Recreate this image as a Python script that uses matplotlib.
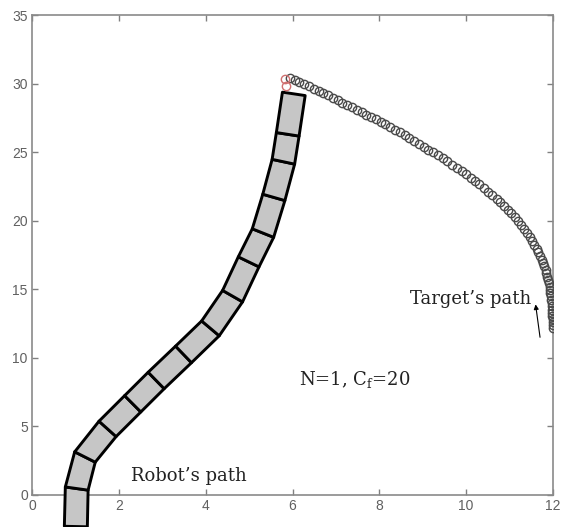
import numpy as np
import matplotlib
matplotlib.use("Agg")
import matplotlib.pyplot as plt
from matplotlib.patches import Polygon

# ---------------- data ----------------
# robot centreline joints (data units)
robot_x = [1.01, 1.03, 1.22, 1.74, 2.32, 2.86, 3.49, 4.11, 4.62, 4.99, 5.32, 5.57, 5.79, 5.89, 6.03]
robot_y = [-2.30, 0.47, 2.77, 4.82, 6.65, 8.35, 10.25, 12.15, 14.50, 17.00, 19.10, 21.70, 24.30, 26.30, 29.25]

# target path circles
target_x = [5.94, 6.05, 6.16, 6.27, 6.38, 6.49, 6.60, 6.71, 6.82, 6.93, 7.04, 7.15, 7.26, 7.37,
            7.48, 7.59, 7.70, 7.81, 7.92, 8.03, 8.14, 8.25, 8.36, 8.47, 8.58, 8.69, 8.80, 8.91,
            9.02, 9.13, 9.24, 9.35, 9.46, 9.57, 9.68, 9.79, 9.90, 10.00, 10.10, 10.20, 10.30,
            10.40, 10.50, 10.60, 10.70, 10.79, 10.88, 10.96, 11.04, 11.12, 11.19, 11.26, 11.33,
            11.40, 11.46, 11.52, 11.57, 11.62, 11.66, 11.70, 11.74, 11.77, 11.80, 11.83, 11.85,
            11.87, 11.89, 11.90, 11.92, 11.93, 11.94, 11.95, 11.96, 11.97, 11.97, 11.98, 11.98,
            11.98, 11.99, 11.99, 11.99, 11.99]
target_y = [30.44, 30.27, 30.10, 29.94, 29.79, 29.63, 29.48, 29.31, 29.14, 28.96, 28.79, 28.61,
            28.44, 28.26, 28.09, 27.91, 27.74, 27.56, 27.39, 27.21, 27.02, 26.82, 26.63, 26.44,
            26.24, 26.03, 25.82, 25.61, 25.40, 25.19, 24.98, 24.77, 24.55, 24.32, 24.09, 23.87,
            23.62, 23.39, 23.15, 22.91, 22.68, 22.40, 22.13, 21.87, 21.60, 21.35, 21.07, 20.80,
            20.53, 20.25, 19.97, 19.68, 19.40, 19.11, 18.82, 18.52, 18.23, 17.94, 17.70, 17.45,
            17.16, 16.92, 16.68, 16.42, 16.18, 15.93, 15.68, 15.45, 15.20, 14.96, 14.72, 14.49,
            14.25, 14.00, 13.76, 13.52, 13.28, 13.05, 12.82, 12.60, 12.38, 12.18]

# initial (red) markers
start_x = [5.83, 5.85]
start_y = [30.30, 29.85]

x_ticks = [0, 2, 4, 6, 8, 10, 12]
y_ticks = [0, 5, 10, 15, 20, 25, 30, 35]

robot_label = "Robot\u2019s path"
target_label = "Target\u2019s path"
param_label = r"N=1, C$_\mathrm{f}$=20"

# ---------------- figure ----------------
plt.rcParams['mathtext.fontset'] = 'custom'
plt.rcParams['mathtext.rm'] = 'DejaVu Serif'
plt.rcParams['mathtext.it'] = 'DejaVu Serif:italic'

W, H = 561, 527
fig = plt.figure(figsize=(W / 100, H / 100), dpi=100)
ax = fig.add_axes([32 / W, 32 / H, 521 / W, 480 / H])
ax.set_xlim(0, 12)
ax.set_ylim(0, 35)
ax.set_xticks(x_ticks)
ax.set_yticks(y_ticks)
ax.tick_params(direction='in', top=True, right=True, length=4, width=1,
               color='#808080', labelcolor='#606060', labelsize=10, pad=3)
for lab in ax.get_xticklabels() + ax.get_yticklabels():
    lab.set_fontfamily('Liberation Sans')
for sp in ax.spines.values():
    sp.set_color('#8a8a8a')
    sp.set_linewidth(1.2)

# robot links as a band of quads, width given in pixels
link_w = 23.0
trans = ax.transData
pts = trans.transform(np.column_stack([robot_x, robot_y]))
n = len(pts)
normals = []
for i in range(n):
    if i == 0:
        d = pts[1] - pts[0]
    elif i == n - 1:
        d = pts[-1] - pts[-2]
    else:
        d1 = pts[i] - pts[i - 1]
        d2 = pts[i + 1] - pts[i]
        d = d1 / np.linalg.norm(d1) + d2 / np.linalg.norm(d2)
    d = d / np.linalg.norm(d)
    normals.append(np.array([-d[1], d[0]]))
inv = trans.inverted()
for i in range(n - 1):
    a, b = pts[i], pts[i + 1]
    na, nb = normals[i], normals[i + 1]
    quad = np.array([a + na * link_w / 2, b + nb * link_w / 2,
                     b - nb * link_w / 2, a - na * link_w / 2])
    poly = Polygon(inv.transform(quad), closed=True, facecolor='#c6c6c6',
                   edgecolor='black', linewidth=2.1, joinstyle='round', clip_on=False, zorder=3)
    ax.add_patch(poly)

# target path
ax.plot(target_x, target_y, linestyle='none', marker='o', markersize=6.0,
        markerfacecolor='none', markeredgecolor='#4a4a4a', markeredgewidth=1.0, zorder=4)
ax.plot(start_x, start_y, linestyle='none', marker='o', markersize=6.0,
        markerfacecolor='none', markeredgecolor='#d07070', markeredgewidth=1.0, zorder=5)

# labels
serif = ['DejaVu Serif']
ax.text(2.28, 1.35, robot_label, fontfamily=serif, fontsize=13, va='center', ha='left', color='#222222')
ax.text(8.71, 14.3, target_label, fontfamily=serif, fontsize=13, va='center', ha='left', color='#222222')
ax.text(6.15, 8.4, param_label, fontfamily=serif, fontsize=13, va='center', ha='left', color='#222222')
ax.annotate('', xy=(11.59, 14.1), xytext=(11.71, 11.3),
            arrowprops=dict(arrowstyle='-|>', color='black', lw=0.8, mutation_scale=7))

fig.savefig('out.png', dpi=100)
